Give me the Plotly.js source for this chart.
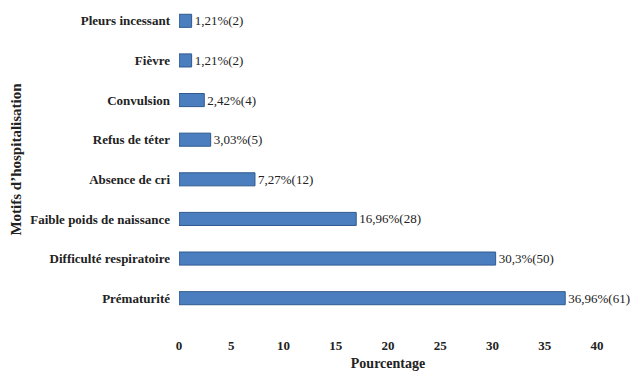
<!DOCTYPE html>
<html>
<head>
<meta charset="utf-8">
<script src="https://cdn.plot.ly/plotly-3.0.1.min.js"></script>
<style>html,body{margin:0;padding:0;background:#fff;}#chart{width:634px;height:379px;}</style>
</head>
<body>
<div id="chart"></div>
<script>
const categories = ["Prématurité", "Difficulté respiratoire", "Faible poids de naissance", "Absence de cri", "Refus de téter", "Convulsion", "Fièvre", "Pleurs incessant"];
const percentages = [36.96, 30.3, 16.96, 7.27, 3.03, 2.42, 1.21, 1.21];
const counts = [61, 50, 28, 12, 5, 4, 2, 2];
const xTicks = [0, 5, 10, 15, 20, 25, 30, 35, 40];

const labels = percentages.map((p, i) => String(p).replace('.', ',') + '%(' + counts[i] + ')');
const serif = '"Liberation Serif", "DejaVu Serif", serif';

Plotly.newPlot('chart', [{
  type: 'bar',
  orientation: 'h',
  y: categories,
  x: percentages,
  width: 0.33,
  marker: {color: '#4a7ebf', line: {color: '#2f5a8f', width: 1}},
  text: labels,
  textposition: 'outside',
  constraintext: 'none',
  textfont: {family: serif, size: 13, color: '#222'},
  cliponaxis: false,
  hoverinfo: 'none'
}], {
  width: 634, height: 379,
  margin: {l: 179, r: 37, t: 1, b: 61},
  paper_bgcolor: '#fff', plot_bgcolor: '#fff',
  showlegend: false,
  xaxis: {
    range: [0, 40], tickvals: xTicks, ticktext: xTicks.map(String),
    showgrid: false, zeroline: false, showline: false,
    tickfont: {family: serif, size: 13, color: '#222', weight: 'bold'},
    ticklabelstandoff: 18,
    title: {text: '<b>Pourcentage</b>', font: {family: serif, size: 14, color: '#222'}, standoff: 6}
  },
  yaxis: {
    range: [-0.5, 7.5],
    showgrid: false, zeroline: false, showline: false,
    tickfont: {family: serif, size: 13, color: '#222', weight: 'bold'},
    ticklabelstandoff: 8,
    title: {text: '<b>Motifs d\u2019hospitalisation</b>', font: {family: serif, size: 15, color: '#222'}, standoff: 4}
  }
}, {staticPlot: true, displayModeBar: false});
</script>
</body>
</html>
